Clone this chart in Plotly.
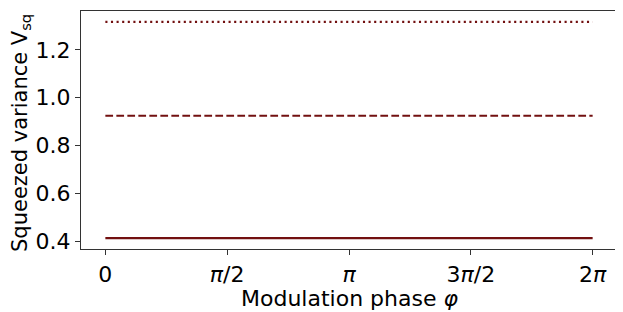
import math
import plotly.graph_objects as go

# Data
phi = [0.0, 2 * math.pi]
v_solid = [0.414, 0.414]
v_dashed = [0.925, 0.925]
v_dotted = [1.317, 1.317]
tick_vals = [0, math.pi / 2, math.pi, 3 * math.pi / 2, 2 * math.pi]
tick_text = ["0", "<i>π</i>/2", "<i>π</i>", "3<i>π</i>/2", "2<i>π</i>"]
y_ticks = [0.4, 0.6, 0.8, 1.0, 1.2]

color = "#721010"
font = "DejaVu Sans"

fig = go.Figure()
fig.add_trace(go.Scatter(x=phi, y=v_solid, mode="lines",
                         line=dict(color=color, width=2.2, dash="solid")))
fig.add_trace(go.Scatter(x=phi, y=v_dashed, mode="lines",
                         line=dict(color=color, width=2.2, dash="7.7px,3.3px")))
fig.add_trace(go.Scatter(x=phi, y=v_dotted, mode="lines",
                         line=dict(color=color, width=2.2, dash="2.1px,3.5px")))

span = 2 * math.pi
ylo, yhi = 0.414, 1.317
ypad = 0.05 * (yhi - ylo)

# page body has an 8px default margin; figure occupies 8..623 x 8..312
fig.update_layout(
    width=615, height=304,
    margin=dict(l=73, r=6, t=3, b=63),
    paper_bgcolor="white", plot_bgcolor="white",
    showlegend=False,
    font=dict(family=font, size=22, color="black"),
    xaxis=dict(range=[-0.05 * span, 1.05 * span], tickvals=tick_vals, ticktext=tick_text,
               showgrid=False, zeroline=False, showline=True, mirror=True,
               linecolor="#333333", linewidth=1.3, ticks="outside", ticklen=5,
               tickwidth=1.1, tickcolor="#333333", automargin=False,
               tickfont=dict(family=font, size=22, color="black")),
    yaxis=dict(range=[ylo - ypad, yhi + ypad], tickvals=y_ticks, tickformat=".1f",
               showgrid=False, zeroline=False, showline=True, mirror=True,
               linecolor="#333333", linewidth=1.3, ticks="outside", ticklen=5,
               tickwidth=1.1, tickcolor="#333333", automargin=False,
               tickfont=dict(family=font, size=22, color="black")),
    annotations=[
        dict(text="Modulation phase <i>φ</i>", xref="paper", yref="paper",
             x=0.5, y=(249 - 298) / 238, xanchor="center", yanchor="middle",
             showarrow=False, font=dict(family=font, size=22, color="black")),
        dict(text="Squeezed variance V<sub>sq</sub>", xref="paper", yref="paper",
             x=(21 - 81) / 536, y=(249 - 133) / 238, xanchor="center", yanchor="middle",
             textangle=-90, showarrow=False,
             font=dict(family=font, size=21, color="black")),
    ],
)

fig.write_html("out.html")
